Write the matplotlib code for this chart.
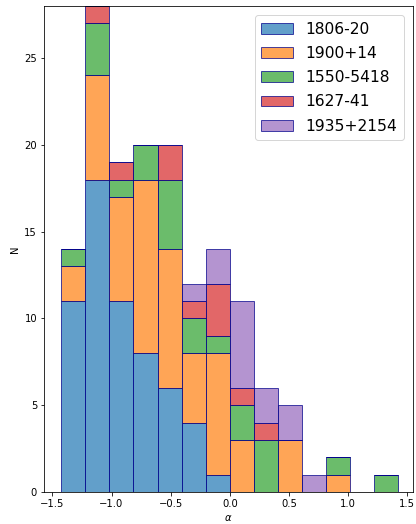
import numpy as np
import matplotlib
matplotlib.use("Agg")
import matplotlib.pyplot as plt

# histogram counts per alpha bin (14 bins from -1.425 to 1.425)
labels = ["1806-20", "1900+14", "1550-5418", "1627-41", "1935+2154"]
counts_1806 = [11, 18, 11, 8, 6, 4, 1, 0, 0, 0, 0, 0, 0, 0]
counts_1900 = [2, 6, 6, 10, 8, 4, 7, 3, 0, 3, 0, 1, 0, 0]
counts_1550 = [1, 3, 1, 2, 4, 2, 1, 2, 3, 0, 0, 1, 0, 1]
counts_1627 = [0, 1, 1, 0, 2, 1, 3, 1, 1, 0, 0, 0, 0, 0]
counts_1935 = [0, 0, 0, 0, 0, 1, 2, 5, 2, 2, 1, 0, 0, 0]

edges = np.linspace(-1.425, 1.425, 15)
centers = 0.5 * (edges[:-1] + edges[1:])

all_counts = [counts_1806, counts_1900, counts_1550, counts_1627, counts_1935]

fig = plt.figure(figsize=(416 / 72, 524 / 72), dpi=72)
ax = fig.add_axes([0.106, 0.061, 0.887, 0.9275])

ax.hist([centers] * 5, bins=edges, weights=all_counts, stacked=True,
        alpha=0.7, edgecolor="darkblue", linewidth=1.0, label=labels)

ax.set_xlim(-1.57, 1.55)
ax.set_ylim(0, 28)
ax.set_xlabel(r"$\alpha$")
ax.set_ylabel("N")
ax.legend(fontsize=15.5, loc="upper right", labelspacing=0.6,
          borderaxespad=0.6, handlelength=2.1)

fig.savefig("out.png", dpi=72)
